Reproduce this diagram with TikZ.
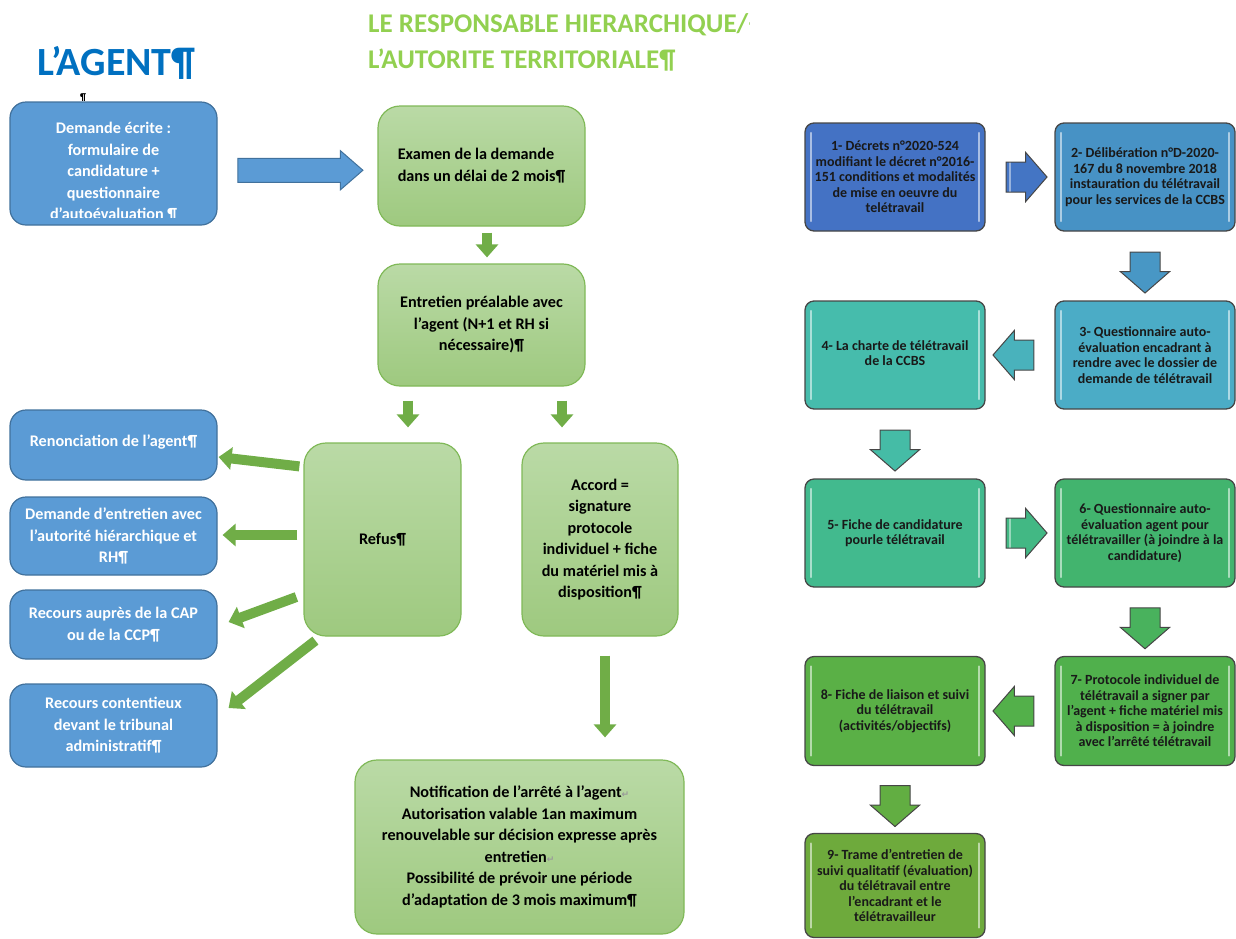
\documentclass[tikz,border=0pt]{standalone}
\usepackage{fontspec}
\setmainfont{Carlito}
\newfontfamily\dejavu{DejaVu Sans}
\usetikzlibrary{shapes.arrows,arrows.meta,calc}
\definecolor{wblue}{HTML}{5B9BD5}
\definecolor{wblueb}{HTML}{41719C}
\definecolor{wgreen}{HTML}{70AD47}
\definecolor{gtop}{RGB}{186,218,166}
\definecolor{gbot}{RGB}{158,201,127}
\definecolor{gborder}{RGB}{128,185,88}
\definecolor{titleblue}{HTML}{0070C0}
\definecolor{titlegreen}{HTML}{92D050}
\definecolor{rborder}{RGB}{70,70,70}
\definecolor{cA}{RGB}{68,114,196}
\definecolor{cB}{RGB}{71,146,197}
\definecolor{cC}{RGB}{75,172,198}
\definecolor{cD}{RGB}{70,188,172}
\definecolor{cE}{RGB}{66,186,142}
\definecolor{cF}{RGB}{66,180,110}
\definecolor{cG}{RGB}{80,176,76}
\definecolor{cH}{RGB}{90,176,70}
\definecolor{cI}{RGB}{110,170,60}
\newcommand\retmark{{\dejavu\fontsize{9}{9}\selectfont\color{gray!80}↵}}
\tikzset{
  lfont/.style={font=\bfseries\fontsize{16.2}{21.5}\selectfont},
  bluebox/.style={draw=wblueb, line width=1.2, fill=wblue, rounded corners=16,
    text=white, lfont, align=center, inner sep=0},
  greenbox/.style={draw=gborder, line width=1.2, top color=gtop, bottom color=gbot,
    rounded corners=22, text=black, lfont, align=center, inner sep=0},
  garrow/.style={draw=wgreen, line width=10, -{Triangle[width=22pt,length=13pt]}},
  bigarrow/.style={single arrow, draw=wblueb, line width=1, fill=wblue, inner xsep=0, inner ysep=11.5,
    minimum height=125, single arrow head extend=7.5, single arrow tip angle=82},
  rarrow/.style={single arrow, draw=rborder, line width=1, fill=#1, inner xsep=0, inner ysep=14.5,
    minimum height=41, single arrow head extend=9.5, single arrow tip angle=98,
    path picture={
      \draw[white, opacity=0.45, line width=2, line cap=round]
        ([shift={(4,-5)}]path picture bounding box.north west) -- ([shift={(4,5)}]path picture bounding box.south west);
    }},
  rbox/.style={draw=rborder, line width=1.3, fill=#1, rounded corners=9, minimum width=180,
    text=black!90, font=\bfseries\fontsize{14}{15.5}\selectfont, align=center, inner sep=0,
    path picture={
      \draw[white, opacity=0.55, line width=2.2, line cap=round]
        ([shift={(6,10)}]path picture bounding box.north west) -- ([shift={(6,-10)}]path picture bounding box.south west);
      \draw[white, opacity=0.55, line width=2.2, line cap=round]
        ([shift={(-6,10)}]path picture bounding box.north east) -- ([shift={(-6,-10)}]path picture bounding box.south east);
    }},
}
\begin{document}
\begin{tikzpicture}[x=1pt,y=-1pt]
\useasboundingbox (0,0) rectangle (1236,938);
% titles
\node[anchor=west, text=titleblue, font=\bfseries\fontsize{40}{40}\selectfont, inner sep=0] (tagent) at (37,63) {L’AGENT¶};
\node[anchor=west, font=\bfseries\fontsize{10}{10}\selectfont, inner sep=0] (pilcrow) at (80,98) {¶};
\begin{scope}
\clip (360,0) rectangle (749,45);
\node[anchor=west, text=titlegreen, font=\bfseries\fontsize{27}{27}\selectfont, inner sep=0] (tresp) at (368,25) {LE RESPONSABLE HIERARCHIQUE/{\dejavu ↵}};
\end{scope}
\node[anchor=west, text=titlegreen, font=\bfseries\fontsize{27}{27}\selectfont, inner sep=0] (tauto) at (368,60) {L’AUTORITE TERRITORIALE¶};

% left column boxes
\node[bluebox, minimum width=207, minimum height=123] (dem) at (113.5,163.5) {};
\begin{scope}
\clip (12,104) rectangle (215,217);
\node[text=white, lfont, align=center, anchor=north, inner sep=0] (demtxt) at (113.5,122) {Demande écrite :\\formulaire de\\candidature +\\questionnaire\\d’autoévaluation ¶};
\end{scope}
\node[bluebox, minimum width=207, minimum height=70] (ren) at (113.5,445) {\raisebox{8pt}{Renonciation de l’agent¶}};
\node[bluebox, minimum width=207, minimum height=78] (dent) at (113.5,536) {Demande d’entretien avec\\l’autorité hiérarchique et\\RH¶};
\node[bluebox, minimum width=207, minimum height=69] (cap) at (113.5,624.5) {Recours auprès de la CAP\\ou de la CCP¶};
\node[bluebox, minimum width=207, minimum height=83] (cont) at (113.5,725.5) {Recours contentieux\\devant le tribunal\\administratif¶};

% green boxes
\node[greenbox, minimum width=207, minimum height=120] (examen) at (481.5,166) {\raisebox{7pt}{\begin{tabular}{@{}l@{}}Examen de la demande\\[1pt]dans un délai de 2 mois¶\end{tabular}}};
\node[greenbox, minimum width=207, minimum height=122] (entretien) at (481.5,325) {Entretien préalable avec\\l’agent (N+1 et RH si\\nécessaire)¶};
\node[greenbox, minimum width=157, minimum height=193] (refus) at (382.5,539.5) {Refus¶};
\node[greenbox, minimum width=156, minimum height=193] (accord) at (600,539.5) {Accord =\\signature\\protocole\\individuel + fiche\\du matériel mis à\\disposition¶};
\node[greenbox, minimum width=329, minimum height=174] (notif) at (519.5,847) {Notification de l’arrêté à l’agent\retmark\\Autorisation valable 1an maximum\\renouvelable sur décision expresse après\\entretien\retmark\\Possibilité de prévoir une période\\d’adaptation de 3 mois maximum¶};

% left arrows
\node[bigarrow] (a0) at ($(dem.east)!0.5!(examen.west)+(-4,5.5)$) {};
\draw[garrow] ([shift={(5.5,6)}]examen.south) -- ([shift={(5.5,-6)}]entretien.south |- entretien.north);
\draw[garrow] ([shift={(-73.5,14)}]entretien.south) -- ([shift={(25.5,-15)}]refus.north);
\draw[garrow] ([shift={(80.5,14)}]entretien.south) -- ([shift={(-38,-15)}]accord.north);
\draw[garrow] ([shift={(-4,24)}]refus.north west) -- ([shift={(1,12)}]ren.east);
\draw[garrow] ([shift={(-6,-4.5)}]refus.west) -- ([shift={(5,-1)}]dent.east);
\draw[garrow] ([shift={(-7,57.5)}]refus.west) -- ([shift={(11,-2.5)}]cap.east);
\draw[garrow] ([shift={(12,4)}]refus.south west) -- ([shift={(11,-17.5)}]cont.east);
\draw[garrow] ([shift={(5,19)}]accord.south) -- ([shift={(85.5,-22)}]notif.north);

% right column
\node[rbox=cA, minimum height=108] (b1) at (895,177) {1- Décrets n°2020-524\\modifiant le décret n°2016-\\151 conditions et modalités\\de mise en oeuvre du\\telétravail};
\node[rbox=cB, minimum height=108] (b2) at (1145,177) {2- Délibération n°D-2020-\\167 du 8 novembre 2018\\instauration du télétravail\\pour les services de la CCBS};
\node[rbox=cC, minimum height=108] (b3) at (1145,355) {3- Questionnaire auto-\\évaluation encadrant à\\rendre avec le dossier de\\demande de télétravail};
\node[rbox=cD, minimum height=108] (b4) at (895,355) {\raisebox{6pt}{\begin{tabular}{@{}c@{}}4- La charte de télétravail\\de la CCBS\end{tabular}}};
\node[rbox=cE, minimum height=108] (b5) at (895,533) {5- Fiche de candidature\\pourle télétravail};
\node[rbox=cF, minimum height=108] (b6) at (1145,533) {6- Questionnaire auto-\\évaluation agent pour\\télétravailler (à joindre à la\\candidature)};
\node[rbox=cG, minimum height=109] (b7) at (1145,711) {7- Protocole individuel de\\télétravail a signer par\\l'agent + fiche matériel mis\\à disposition = à joindre\\avec l'arrêté télétravail};
\node[rbox=cH, minimum height=109] (b8) at (895,711) {8- Fiche de liaison et suivi\\du télétravail\\(activités/objectifs)};
\node[rbox=cI, minimum height=104] (b9) at (895,885.5) {9- Trame d'entretien de\\suivi qualitatif (évaluation)\\du télétravail entre\\l'encadrant et le\\télétravailleur};

\node[rarrow=cA!90!cB] (r12) at ($(b1.east)!0.5!(b2.west)$) {};
\node[rarrow=cB!80!cC, rotate=-90] (r23) at ($(b2.south)!0.5!(b3.north)$) {};
\node[rarrow=cC!60!cD, rotate=180] (r34) at ($(b3.west)!0.5!(b4.east)$) {};
\node[rarrow=cD!80!cE, rotate=-90] (r45) at ($(b4.south)!0.5!(b5.north)$) {};
\node[rarrow=cE!70!cF, rotate=0] (r56) at ($(b5.east)!0.5!(b6.west)$) {};
\node[rarrow=cF!50!cG, rotate=-90] (r67) at ($(b6.south)!0.5!(b7.north)$) {};
\node[rarrow=cG!70!cH, rotate=180] (r78) at ($(b7.west)!0.5!(b8.east)$) {};
\node[rarrow=cH!60!cI, rotate=-90] (r89) at ($(b8.south)!0.5!(b9.north)$) {};
\end{tikzpicture}
\end{document}
